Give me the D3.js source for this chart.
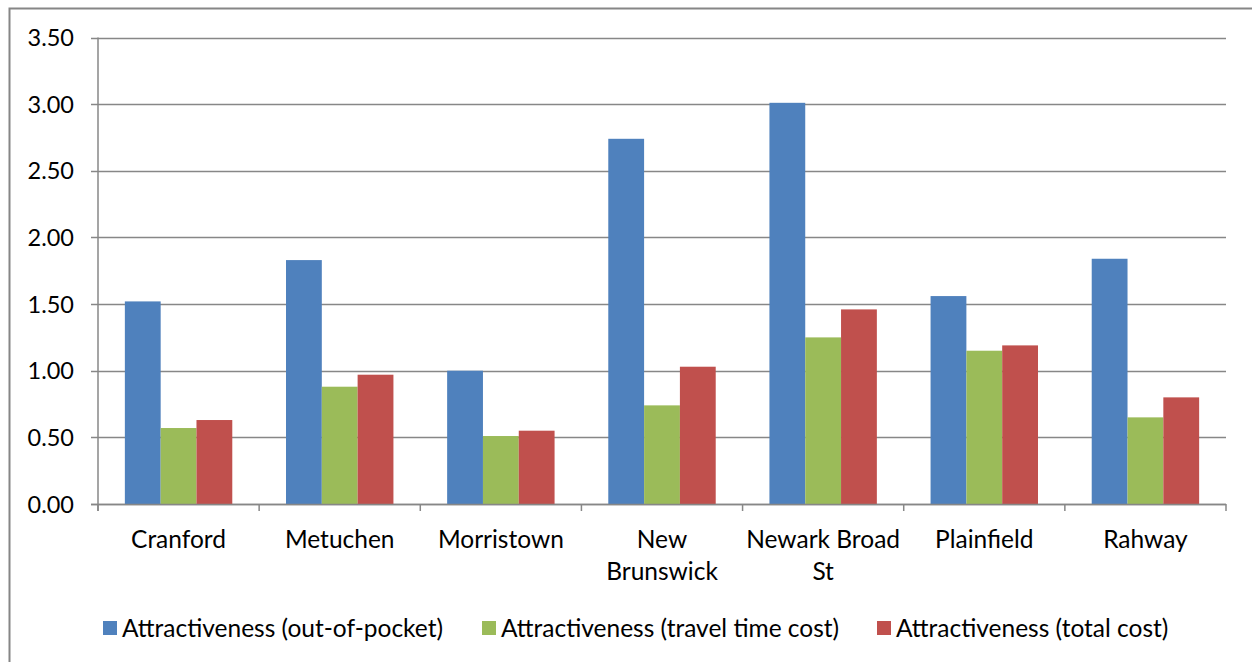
<!DOCTYPE html>
<html><head><meta charset="utf-8">
<script src="https://cdn.jsdelivr.net/npm/d3@7"></script>
<style>body{margin:0;background:#fff}svg{display:block}text{font-family:Lato,"Open Sans",sans-serif;fill:#000}</style>
</head><body>
<script>
const categories = [["Cranford"],["Metuchen"],["Morristown"],["New","Brunswick"],["Newark Broad","St"],["Plainfield"],["Rahway"]];
const seriesNames = ["Attractiveness (out-of-pocket)","Attractiveness (travel time cost)","Attractiveness (total cost)"];
const outOfPocket = [1.52,1.83,1.00,2.74,3.01,1.56,1.84];
const travelTime = [0.57,0.88,0.51,0.74,1.25,1.15,0.65];
const totalCost = [0.63,0.97,0.55,1.03,1.46,1.19,0.80];
const colors = ["#4F81BD","#9BBB59","#C0504D"];
const yTicks = [0,0.5,1,1.5,2,2.5,3,3.5];

(function(){
const W=1252,H=662,FS=24.5;
const svg=d3.select("body").append("svg").attr("width",W).attr("height",H);
svg.append("rect").attr("x",9.5).attr("y",8.5).attr("width",W).attr("height",H).attr("fill","none").attr("stroke","#868686").attr("stroke-width",2);

const pl=98,pr=1226,pt=37.5,pb=504;
const idx=d3.range(categories.length);
const x=d3.scaleBand().domain(idx).range([pl,pr]).paddingInner(0).paddingOuter(0);
const y=d3.scaleLinear().domain([0,3.5]).range([pb,pt]);
const series=[outOfPocket,travelTime,totalCost];
const xs=d3.scaleBand().domain([0,1,2]).range([0,x.bandwidth()]).paddingInner(0).paddingOuter(0.75);

svg.append("g").selectAll("line").data(yTicks).join("line")
  .attr("x1",pl-7).attr("x2",pr).attr("y1",d=>Math.round(y(d))+0.5).attr("y2",d=>Math.round(y(d))+0.5)
  .attr("stroke","#878787").attr("stroke-width",1.5);
svg.append("g").selectAll("text").data(yTicks).join("text")
  .attr("x",74).attr("y",d=>y(d)+8.5).attr("text-anchor","end").attr("font-size",FS-1).text(d=>d.toFixed(2));

const g=svg.append("g");
series.forEach((vals,si)=>{
  g.selectAll(null).data(vals).join("rect")
    .attr("x",(d,i)=>x(i)+xs(si)).attr("width",xs.bandwidth())
    .attr("y",d=>y(d)).attr("height",d=>pb-y(d)).attr("fill",colors[si]);
});

svg.append("line").attr("x1",pl).attr("x2",pl).attr("y1",pt).attr("y2",pb+7).attr("stroke","#878787").attr("stroke-width",1.5);
svg.append("line").attr("x1",pl-7).attr("x2",pr).attr("y1",pb+0.5).attr("y2",pb+0.5).attr("stroke","#878787").attr("stroke-width",1.5);
svg.append("g").selectAll("line").data(d3.range(categories.length+1)).join("line")
  .attr("x1",d=>pl+d*x.bandwidth()).attr("x2",d=>pl+d*x.bandwidth()).attr("y1",pb).attr("y2",pb+7)
  .attr("stroke","#878787").attr("stroke-width",1.5);

categories.forEach((lines,i)=>{
  const t=svg.append("text").attr("text-anchor","middle").attr("font-size",FS);
  lines.forEach((l,j)=>t.append("tspan").attr("x",x(i)+x.bandwidth()/2).attr("y",548+j*32).text(l));
});

const legX=[103,482,877];
seriesNames.forEach((n,i)=>{
  svg.append("rect").attr("x",legX[i]).attr("y",621).attr("width",14).attr("height",14).attr("fill",colors[i]);
  svg.append("text").attr("x",legX[i]+19).attr("y",637).attr("font-size",FS).text(n);
});
})();
</script>
</body></html>
